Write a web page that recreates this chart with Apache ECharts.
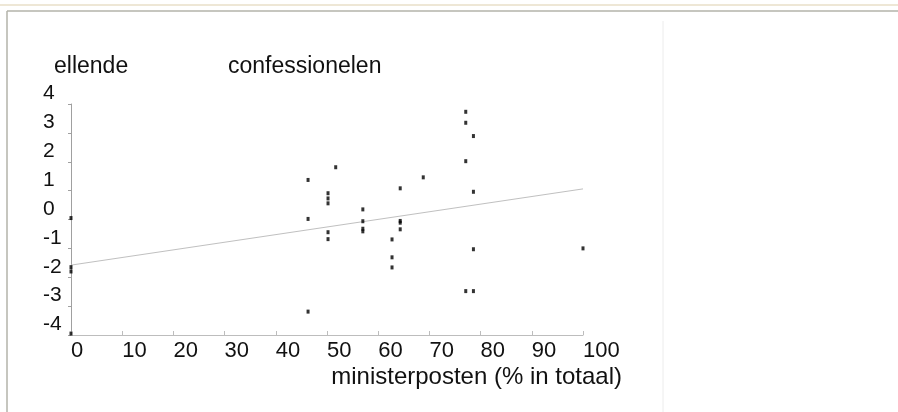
<!DOCTYPE html>
<html>
<head>
<meta charset="utf-8">
<script src="https://cdn.jsdelivr.net/npm/echarts@6/dist/echarts.min.js"></script>
<style>
html,body{margin:0;padding:0;background:#fff;}
#c{width:898px;height:412px;}
</style>
</head>
<body>
<div id="c"></div>
<script>
// ministerposten (% in totaal) for confessionelen
const xValues = [0, 0, 0, 0, 46.3, 46.3, 46.3, 50.2, 50.2, 50.2, 50.2, 50.2, 51.7, 57.0, 57.0, 57.0, 57.0, 62.7, 62.7, 62.7, 64.3, 64.3, 64.3, 64.3, 68.8, 77.1, 77.1, 77.1, 77.1, 78.6, 78.6, 78.6, 78.6, 100];
// ellende
const yValues = [0.05, -1.65, -1.8, -3.95, 1.37, 0.02, -3.19, 0.91, 0.73, 0.56, -0.44, -0.68, 1.81, 0.35, -0.06, -0.32, -0.41, -0.69, -1.31, -1.66, 1.08, -0.05, -0.11, -0.34, 1.46, 3.73, 3.35, 2.02, -2.48, 2.89, 0.96, -1.03, -2.48, -1.0];
// regression line endpoints
const trendX = [0, 100];
const trendY = [-1.58, 1.06];
const xTicks = [0, 10, 20, 30, 40, 50, 60, 70, 80, 90, 100];
const yTicks = [-4, -3, -2, -1, 0, 1, 2, 3, 4];
const titleText = 'confessionelen';
const yName = 'ellende';
const xName = 'ministerposten (% in totaal)';

const points = xValues.map((x, i) => [x, yValues[i]]);
const trend = trendX.map((x, i) => [x, trendY[i]]);
const FONT = '"Liberation Sans", Arial, sans-serif';
const TXT = '#111111';

const chart = echarts.init(document.getElementById('c'), null, {renderer: 'canvas'});
chart.setOption({
  backgroundColor: '#ffffff',
  animation: false,
  title: [
    {text: yName, left: 49, top: 50, textStyle: {fontFamily: FONT, fontSize: 23, fontWeight: 'normal', color: TXT}},
    {text: titleText, left: 223, top: 50, textStyle: {fontFamily: FONT, fontSize: 23, fontWeight: 'normal', color: TXT}}
  ],
  grid: {left: 71, right: 315, top: 104, bottom: 77, containLabel: false},
  xAxis: {
    type: 'value', min: xTicks[0], max: xTicks[xTicks.length - 1], interval: 10,
    splitLine: {show: false},
    axisLine: {show: true, onZero: false, lineStyle: {color: '#bdbdbd', width: 1}},
    axisTick: {show: true, inside: true, length: 4, lineStyle: {color: '#bdbdbd'}},
    axisLabel: {fontFamily: FONT, fontSize: 22, color: TXT, align: 'left', margin: 5},
    name: xName, nameLocation: 'end', nameGap: 39,
    nameTextStyle: {fontFamily: FONT, fontSize: 24, color: TXT, align: 'right', verticalAlign: 'top', padding: [30, 0, 0, 0]}
  },
  yAxis: {
    type: 'value', min: yTicks[0], max: yTicks[yTicks.length - 1], interval: 1,
    splitLine: {show: false},
    axisLine: {show: true, onZero: false, lineStyle: {color: '#a0a0a0', width: 1}},
    axisTick: {show: true, inside: false, length: 3, lineStyle: {color: '#a0a0a0'}},
    axisLabel: {fontFamily: FONT, fontSize: 21, color: TXT, align: 'left', margin: 28, verticalAlign: 'bottom', lineHeight: 21}
  },
  graphic: [
    {type: 'line', shape: {x1: 0, y1: 5, x2: 898, y2: 5}, style: {stroke: '#eee7d6', lineWidth: 2}, silent: true},
    {type: 'line', shape: {x1: 7, y1: 11, x2: 898, y2: 11}, style: {stroke: '#b3b3aa', lineWidth: 1.5}, silent: true},
    {type: 'line', shape: {x1: 7, y1: 11, x2: 7, y2: 412}, style: {stroke: '#b3b3aa', lineWidth: 1.5}, silent: true},
    {type: 'line', shape: {x1: 663, y1: 21, x2: 663, y2: 412}, style: {stroke: '#ececec', lineWidth: 1}, silent: true}
  ],
  series: [
    {
      type: 'line', data: trend, symbol: 'none', silent: true,
      lineStyle: {color: '#c0c0c0', width: 1}, z: 2
    },
    {
      type: 'scatter', data: points, symbol: 'rect', symbolSize: [3, 4], clip: false,
      itemStyle: {color: '#000000'}, z: 3
    }
  ]
});
</script>
</body>
</html>
